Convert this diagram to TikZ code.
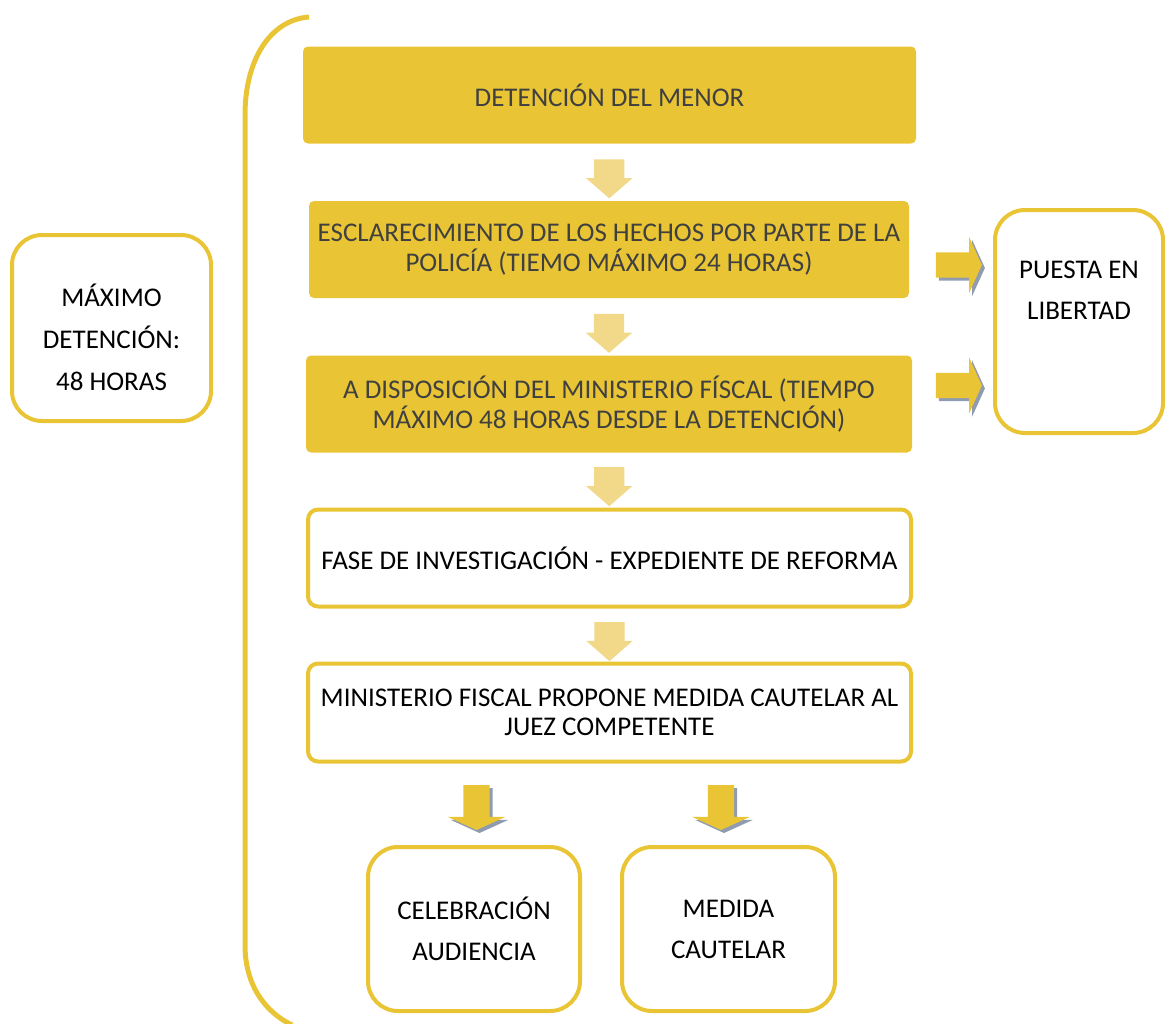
\documentclass[tikz,border=0pt]{standalone}
\usepackage{fontspec}
\setmainfont{Carlito}
\usetikzlibrary{arrows.meta,positioning,calc,shapes.arrows,shadows}
\definecolor{flowgold}{HTML}{E9C535}
\definecolor{flowpale}{HTML}{F2D98A}
\definecolor{flowtext}{HTML}{404040}
\definecolor{flowshadow}{HTML}{8E9BB0}

\begin{document}
\begin{tikzpicture}[
  x=1pt, y=-1pt,
  font=\fontsize{27}{29.5}\selectfont,
  goldbox/.style={
    fill=flowgold,
    rounded corners=5pt,
    text=flowtext,
    align=center,
    inner sep=0pt
  },
  linebox/.style={
    draw=flowgold,
    line width=4pt,
    fill=white,
    rounded corners=10pt,
    align=center,
    inner sep=0pt
  },
  roundbox/.style={
    draw=flowgold,
    line width=4pt,
    fill=white,
    rounded corners=30pt,
    align=center,
    inner sep=0pt,
    font=\fontsize{27}{41}\selectfont
  },
  palearrow/.style={
    single arrow,
    fill=flowpale,
    shape border rotate=270,
    inner xsep=15pt, inner ysep=0pt,
    single arrow head extend=8pt,
    single arrow tip angle=98,
    minimum height=39pt
  },
  boldarrow/.style={
    single arrow,
    fill=flowgold,
    single arrow head extend=15.5pt,
    single arrow tip angle=131,
    minimum height=45pt,
    drop shadow={shadow xshift=3pt, shadow yshift=-3pt, fill=flowshadow, opacity=1}
  },
  downarrow/.style={boldarrow, shape border rotate=270, inner xsep=13pt, inner ysep=0pt},
  rightarrow/.style={boldarrow, inner xsep=0pt, inner ysep=12.5pt, minimum height=46pt}
]
  \useasboundingbox (0,0) rectangle (1167,1023);

  % main column
  \node[goldbox, minimum width=613pt, minimum height=97pt] (detencion) at (609.5,95) {DETENCIÓN DEL MENOR};
  \node[goldbox, minimum width=600pt, minimum height=97pt] (esclarecimiento) at (609,249.5) {ESCLARECIMIENTO DE LOS HECHOS POR PARTE DE LA\\POLICÍA (TIEMO MÁXIMO 24 HORAS)};
  \node[goldbox, minimum width=606pt, minimum height=97pt] (fiscal) at (609,404) {A DISPOSICIÓN DEL MINISTERIO FÍSCAL (TIEMPO\\MÁXIMO 48 HORAS DESDE LA DETENCIÓN)};
  \node[linebox, minimum width=603pt, minimum height=97pt] (investigacion) at (609.5,558) {FASE DE INVESTIGACIÓN - EXPEDIENTE DE REFORMA};
  \node[linebox, minimum width=603pt, minimum height=98pt] (propone) at (609.5,712.5) {MINISTERIO FISCAL PROPONE MEDIDA CAUTELAR AL\\JUEZ COMPETENTE};

  % outcomes
  \node[roundbox, minimum width=212pt, minimum height=164pt] (audiencia) at (474,929) {CELEBRACIÓN\\AUDIENCIA};
  \node[roundbox, minimum width=213pt, minimum height=164pt] (cautelar) at (728.5,929) {MEDIDA\\CAUTELAR};
  \node[roundbox, minimum width=199pt, minimum height=186pt] (maximo) at (111.5,328) {};
  \node[align=center, font=\fontsize{27}{42}\selectfont] (maximotxt) at ([yshift=-9pt]maximo.center) {MÁXIMO\\DETENCIÓN:\\48 HORAS};
  \node[roundbox, minimum width=168pt, minimum height=223pt] (libertad) at (1079,321.5) {};
  \node[align=center, font=\fontsize{27}{41}\selectfont] (libertadtxt) at ([yshift=31pt]libertad.center) {PUESTA EN\\LIBERTAD};

  % arrows between steps
  \node[palearrow] (a1) at ($(detencion.south)!0.5!(esclarecimiento.north)$) {};
  \node[palearrow] (a2) at ($(esclarecimiento.south)!0.5!(fiscal.north)$) {};
  \node[palearrow] (a3) at ($(fiscal.south)!0.5!(investigacion.north)$) {};
  \node[palearrow] (a4) at ($(investigacion.south)!0.5!(propone.north)$) {};
  \node[downarrow] (a5) at (476.5,804.5) {};
  \node[downarrow] (a6) at (721,804.5) {};
  \node[rightarrow] (a7) at (956,265) {};
  \node[rightarrow] (a8) at (956,385.5) {};

  % bracket
  \draw[flowgold, line width=5pt] (309,17) .. controls (270,20) and (245,60) .. (245,115)
    -- (245,945) .. controls (245,985) and (265,1012) .. (292,1025);
\end{tikzpicture}
\end{document}
